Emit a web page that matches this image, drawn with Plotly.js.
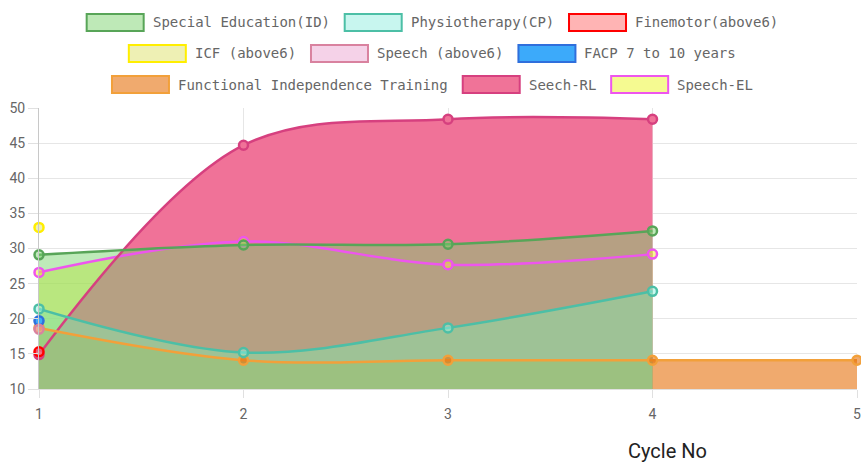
<!DOCTYPE html>
<html><head><meta charset="utf-8">
<script src="https://cdn.plot.ly/plotly-3.0.1.min.js"></script>
<style>html,body{margin:0;padding:0;background:#fff}#chart{width:861px;height:472px}</style>
</head><body><div id="chart"></div>
<script>
// ---- data ----
const cycles = [1, 2, 3, 4, 5];
const seriesNames = ["Special Education(ID)", "Physiotherapy(CP)", "Finemotor(above6)",
  "ICF (above6)", "Speech (above6)", "FACP 7 to 10 years",
  "Functional Independence Training", "Seech-RL", "Speech-EL"];
const specialEducation = [29.1, 30.5, 30.6, 32.5, null];
const physiotherapy    = [21.4, 15.2, 18.7, 23.9, null];
const finemotor        = [15.3, null, null, null, null];
const icf              = [33.0, null, null, null, null];
const speechAbove6     = [18.5, null, null, null, null];
const facp             = [19.7, null, null, null, null];
const fit              = [18.7, 14.1, 14.1, 14.1, 14.1];
const seechRL          = [14.9, 44.7, 48.4, 48.4, null];
const speechEL         = [26.6, 31.0, 27.7, 29.2, null];
const yTicks = [10, 15, 20, 25, 30, 35, 40, 45, 50];
const xAxisTitle = "Cycle No";

const seriesValues = [specialEducation, physiotherapy, finemotor, icf, speechAbove6, facp, fit, seechRL, speechEL];

// ---- styles ----
const lineColors = ["#58a558", "#4cbfa6", "#ff0000", "#ffee00", "#d9829f", "#2f6fdc", "#f2a03a", "#d6407f", "#ee55ee"];
const fillColors = ["rgba(120,212,108,0.48)", "rgba(145,241,225,0.5)", "rgba(255,105,105,0.5)",
  "rgba(221,225,105,0.5)", "rgba(235,165,209,0.5)", "rgb(60,170,250)",
  "rgba(230,113,13,0.6)", "rgb(240,114,152)", "rgba(235,245,35,0.5)"];
const legendFills = ["#bee9b7", "#c8f6ef", "#ffb4b4", "#eef0b4", "#f5d2e8", "#3caafa", "#f0aa6e", "#f07398", "#f5fa91"];
const legendRows = [[0, 1, 2], [3, 4, 5], [6, 7, 8]];

const W = 861, H = 472, ML = 39, MR = 4, MT = 108, MB = 83;
const PW = W - ML - MR, PH = H - MT - MB;
const px2x = px => (px - ML) / PW;
const py2y = py => (H - MB - py) / PH;

// Chart.js draws fills of all datasets first (last dataset at the bottom), then lines/points
const order = seriesValues.map((_, i) => i).reverse();
const traces = [];
order.forEach(i => {
  traces.push({
    x: cycles, y: seriesValues[i], type: 'scatter', mode: 'lines',
    line: {width: 0, shape: 'spline', smoothing: 1, color: 'rgba(0,0,0,0)'},
    fill: 'tozeroy', fillcolor: fillColors[i], hoverinfo: 'skip', showlegend: false
  });
});
order.forEach(i => {
  traces.push({
    x: cycles, y: seriesValues[i], type: 'scatter', mode: 'lines+markers', name: seriesNames[i],
    line: {width: 2.5, shape: 'spline', smoothing: 1, color: lineColors[i]},
    marker: {size: 9, color: fillColors[i], line: {width: 2.5, color: lineColors[i]}},
    cliponaxis: false, showlegend: false
  });
});

// custom legend (Chart.js style centred rows)
const shapes = [], annotations = [];
const rowY = [22.5, 53.5, 84.5], centreX = 432, charW = 8.43, boxW = 57, boxH = 17, gapText = 8, gapItem = 16;
legendRows.forEach((row, r) => {
  const widths = row.map(i => boxW + gapText + seriesNames[i].length * charW);
  const total = widths.reduce((a, b) => a + b, 0) + gapItem * (row.length - 1);
  let x = centreX - total / 2;
  row.forEach((i, k) => {
    shapes.push({type: 'rect', xref: 'paper', yref: 'paper',
      x0: px2x(x), x1: px2x(x + boxW), y0: py2y(rowY[r] - boxH / 2), y1: py2y(rowY[r] + boxH / 2),
      fillcolor: legendFills[i], line: {color: lineColors[i], width: 2}});
    annotations.push({xref: 'paper', yref: 'paper', x: px2x(x + boxW + gapText - 1), y: py2y(rowY[r]),
      xanchor: 'left', yanchor: 'middle', showarrow: false, text: seriesNames[i],
      font: {family: 'DejaVu Sans Mono', size: 14, color: '#666'}});
    x += widths[k] + gapItem;
  });
});
annotations.push({xref: 'paper', yref: 'paper', x: px2x(667), y: py2y(451), xanchor: 'center', yanchor: 'middle',
  showarrow: false, text: xAxisTitle, font: {family: 'Roboto', size: 20, color: '#222'}});

const layout = {
  width: W, height: H, margin: {l: ML, r: MR, t: MT, b: MB, pad: 0},
  paper_bgcolor: '#fff', plot_bgcolor: '#fff', showlegend: false,
  font: {family: 'Roboto', size: 14, color: '#666'},
  xaxis: {range: [1, 5], tickvals: cycles, ticktext: cycles.map(String), showgrid: true, gridcolor: '#e6e6e6',
    zeroline: false, showline: true, linecolor: '#e0e0e0', ticks: 'outside', ticklen: 8, tickcolor: '#e0e0e0',
    tickfont: {family: 'Roboto', size: 14, color: '#666'}, ticklabelstandoff: 4, ticklabeloverflow: 'allow',
    fixedrange: true},
  yaxis: {range: [10, 50], tickvals: yTicks, showgrid: true, gridcolor: '#e6e6e6', zeroline: false,
    showline: true, linecolor: '#c8c8c8', ticks: 'outside', ticklen: 10, tickcolor: '#e0e0e0',
    tickfont: {family: 'Roboto', size: 14, color: '#666'}, ticklabeloverflow: 'allow', fixedrange: true},
  shapes: shapes, annotations: annotations
};
Plotly.newPlot('chart', traces, layout, {displayModeBar: false, staticPlot: true});
</script></body></html>
